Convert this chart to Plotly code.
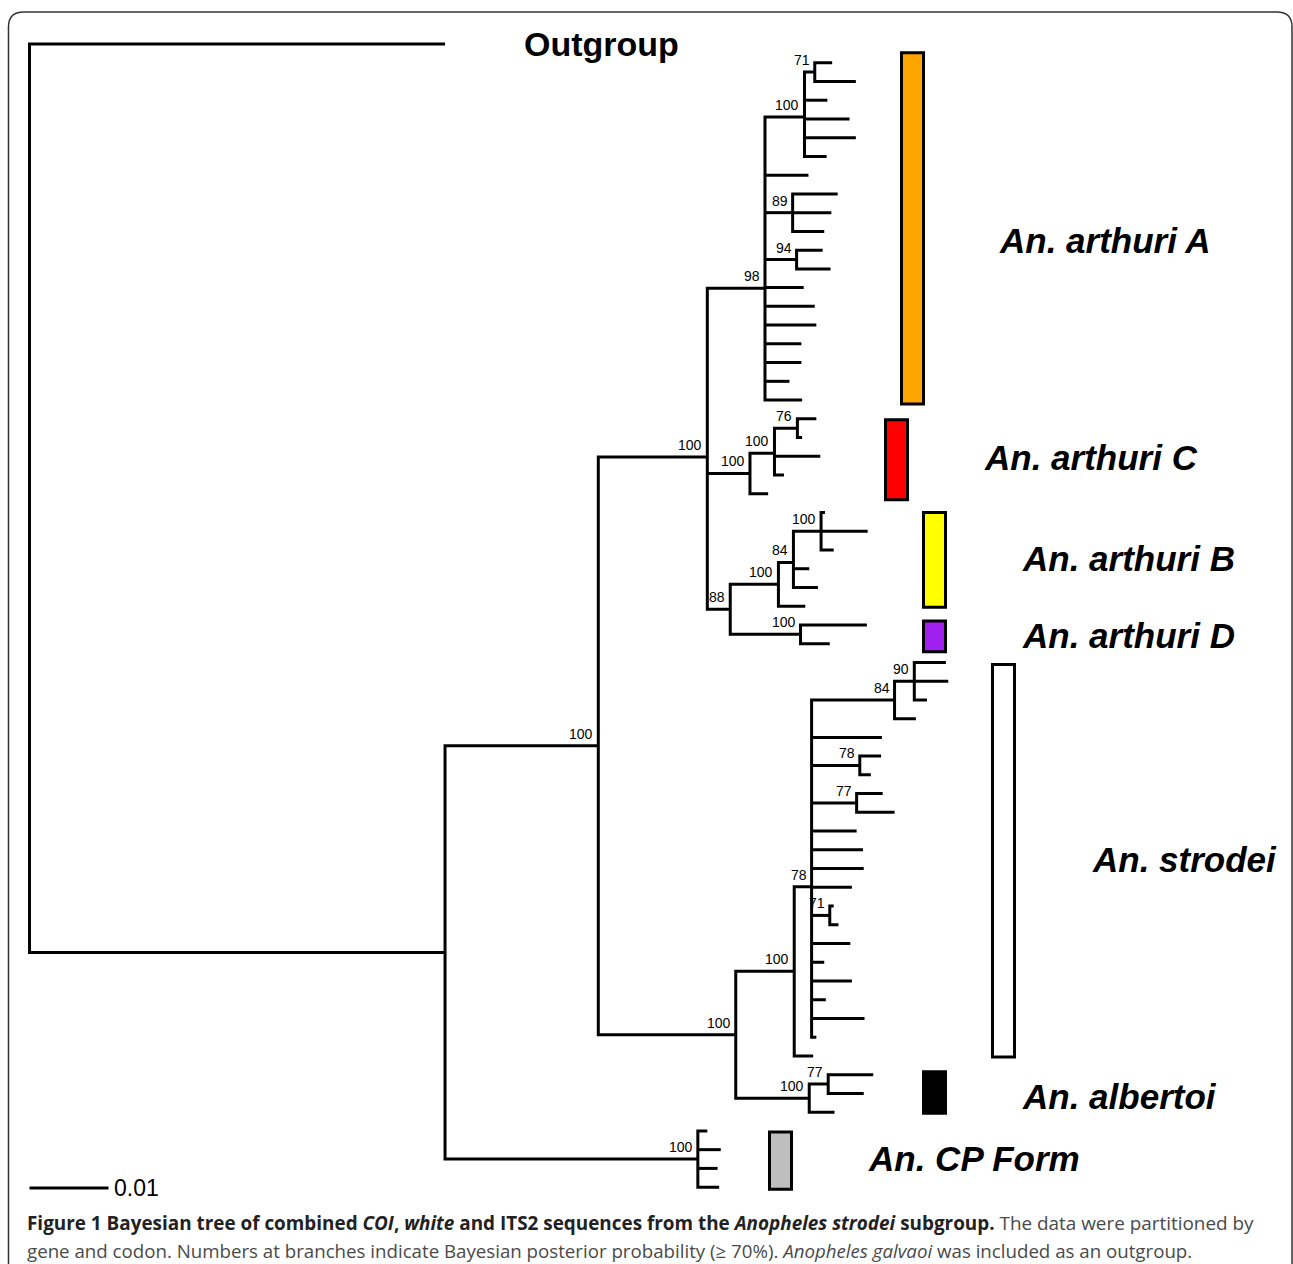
import plotly.graph_objects as go

# ---------------- DATA ----------------
# Tree in Newick pieces: branch lengths in substitutions/site, internal labels = posterior probability (%)
OUTGROUP = "Outgroup:0.0526"
ARTHURI_A = ("(((A1:0.0022,A2:0.0052)71:0.0013,A3:0.0029,A4:0.0057,A5:0.0065,A6:0.0028)100:0.0050,"
             "A7:0.0055,(A8:0.0057,A9:0.0049,A10:0.0040)89:0.0035,(A11:0.0033,A12:0.0043)94:0.0040,"
             "A13:0.0049,A14:0.0063,A15:0.0065,A16:0.0046,A17:0.0046,A18:0.0031,A19:0.0047)98:0.0073")
ARTHURI_C = "(((C1:0.0024,C2:0.0006)76:0.0029,C3:0.0058,C4:0.0012)100:0.0031,C5:0.0023)100:0.0054"
ARTHURI_BD = ("((((B1:0.0005,B2:0.0059,B3:0.0016)100:0.0035,B4:0.0020,B5:0.0031)84:0.0019,B6:0.0034)100:0.0061,"
              "(D1:0.0084,D2:0.0037)100:0.0089)88:0.0029")
STRODEI_CORE = ("(((S1:0.0040,S2:0.0043,S3:0.0016)90:0.0025,S4:0.0027)84:0.0105,S5:0.0089,"
                "(S6:0.0027,S7:0.0014)78:0.0061,(S8:0.0033,S9:0.0048)77:0.0057,S10:0.0057,S11:0.0065,"
                "S12:0.0066,S13:0.0051,(S14:0.0005,S15:0.0011)71:0.0023,S16:0.0049,S17:0.0016,S18:0.0051,"
                "S19:0.0018,S20:0.0067,S21:0.0006)78:0.0022")
STRODEI = "(" + STRODEI_CORE + ",S22:0.0024)100:0.0074"
ALBERTOI = "((L1:0.0057,L2:0.0045)77:0.0024,L3:0.0032)100:0.0093"
CP_FORM = "(P1:0.0012,P2:0.0029,P3:0.0025,P4:0.0027)100:0.0320"
ARTHURI = "(" + ARTHURI_A + "," + ARTHURI_C + "," + ARTHURI_BD + ")100:0.0138"
STR_ALB = "(" + STRODEI + "," + ALBERTOI + ")100:0.0174"
MAIN = "(" + ARTHURI + "," + STR_ALB + ")100:0.0194"
INGROUP = "(" + MAIN + "," + CP_FORM + "):0.0526"
NEWICK = "(" + OUTGROUP + "," + INGROUP + ");"

CLADE_NAMES = ["An. arthuri A", "An. arthuri C", "An. arthuri B", "An. arthuri D",
               "An. strodei", "An. albertoi", "An. CP Form"]
CLADE_PREFIX = ["A", "C", "B", "D", "S", "L", "P"]
CLADE_COLORS = ["#FFA500", "#FF0000", "#FFFF00", "#A020F0", "#FFFFFF", "#000000", "#BEBEBE"]
SCALE_BAR = 0.01

# ---------------- LAYOUT (pixels) ----------------
W, H = 1293, 1264
ROOT_PX, PX_PER_UNIT = 29.5, 7900.0
TIP0_PX, TIP_STEP_PX = 44.0, 18.74
BAR_LEFT = [900, 884, 922, 922, 991, 922, 768]
BAR_W = 25
BAR_PAD_TOP = [10, -1, 0, 4, -2, 3, -1]
BAR_PAD_BOT = [4, 6, 1, 8, 1, 1, 2]
LABEL_POS = [(997, 240), (982, 457), (1020, 558), (1020, 635), (1090, 859), (1020, 1096), (866, 1158)]


def px2x(px):
    return (px - ROOT_PX) / PX_PER_UNIT


def px2y(py):
    return (py - TIP0_PX) / TIP_STEP_PX


def parse_newick(s):
    s = s.strip().rstrip(";")
    pos = 0

    def node():
        nonlocal pos
        n = {"children": [], "name": "", "length": 0.0}
        if s[pos] == "(":
            pos += 1
            while True:
                n["children"].append(node())
                if s[pos] == ",":
                    pos += 1
                    continue
                pos += 1  # ')'
                break
        st = pos
        while pos < len(s) and s[pos] not in ":,)":
            pos += 1
        n["name"] = s[st:pos]
        if pos < len(s) and s[pos] == ":":
            pos += 1
            st = pos
            while pos < len(s) and s[pos] not in ",)":
                pos += 1
            n["length"] = float(s[st:pos])
        return n

    return node()


tree = parse_newick(NEWICK)
tips = []


def place(n, x0, is_root=False):
    n["x"] = x0 + (0.0 if is_root else n["length"])
    if n["children"]:
        for c in n["children"]:
            place(c, n["x"])
        n["y"] = sum(c["y"] for c in n["children"]) / len(n["children"])
    else:
        n["y"] = len(tips)
        tips.append(n)


place(tree, 0.0, True)

xs, ys = [], []
supports = []


def draw(n):
    ch = n["children"]
    if not ch:
        return
    f, l = ch[0], ch[-1]
    xs.extend([f["x"], n["x"], n["x"], l["x"], None])
    ys.extend([f["y"], f["y"], l["y"], l["y"], None])
    for c in ch[1:-1]:
        xs.extend([n["x"], c["x"], None])
        ys.extend([c["y"], c["y"], None])
    if n["name"]:
        supports.append((n["x"], n["y"], n["name"]))
    for c in ch:
        draw(c)


draw(tree)

fig = go.Figure()
fig.add_trace(go.Scatter(x=xs, y=ys, mode="lines", line=dict(color="black", width=3),
                         hoverinfo="skip", showlegend=False))

# scale bar
sb_y = px2y(1188)
fig.add_trace(go.Scatter(x=[0, SCALE_BAR], y=[sb_y, sb_y], mode="lines",
                         line=dict(color="black", width=3), hoverinfo="skip", showlegend=False))

annotations = []
FONT = "Liberation Sans, Arial, sans-serif"
for x, y, lab in supports:
    annotations.append(dict(x=x, y=y, text=lab, showarrow=False, xanchor="right", yanchor="bottom",
                            xshift=-3, yshift=2, font=dict(family=FONT, size=14, color="black")))

annotations.append(dict(x=SCALE_BAR, y=sb_y, text=str(SCALE_BAR), showarrow=False, xanchor="left",
                        yanchor="middle", xshift=3, font=dict(family=FONT, size=23, color="black")))

# outgroup label
annotations.append(dict(x=px2x(601), y=tips[0]["y"], text="<b>Outgroup</b>", showarrow=False,
                        xanchor="center", yanchor="middle",
                        font=dict(family=FONT, size=34, color="black")))

shapes = []
for i, pre in enumerate(CLADE_PREFIX):
    cy = [t["y"] for t in tips if t["name"].rstrip("0123456789") == pre]
    y0 = min(cy) - BAR_PAD_TOP[i] / TIP_STEP_PX
    y1 = max(cy) + BAR_PAD_BOT[i] / TIP_STEP_PX
    shapes.append(dict(type="rect", xref="x", yref="y",
                       x0=px2x(BAR_LEFT[i] + 1.5), x1=px2x(BAR_LEFT[i] + BAR_W - 1.5),
                       y0=y0, y1=y1, fillcolor=CLADE_COLORS[i],
                       line=dict(color="black", width=3)))
    lx, ly = LABEL_POS[i]
    annotations.append(dict(x=px2x(lx), y=px2y(ly), text="<b><i>" + CLADE_NAMES[i] + "</i></b>",
                            showarrow=False, xanchor="left", yanchor="middle",
                            font=dict(family=FONT, size=35, color="black")))


# frame with rounded top corners (paper coords)
def P(px, py):
    return f"{px / W:.5f},{1 - py / H:.5f}"


frame = (f"M {P(8.5, 1264)} L {P(8.5, 27)} Q {P(8.5, 12)} {P(23.5, 12)} "
         f"L {P(1277, 12)} Q {P(1292, 12)} {P(1292, 27)} L {P(1292, 1264)}")
shapes.append(dict(type="path", xref="paper", yref="paper", path=frame,
                   line=dict(color="#333333", width=1.5)))

CAP_FONT = "Open Sans, Noto Sans, sans-serif"
cap1 = ("<b>Figure 1 Bayesian tree of combined <i>COI</i>, <i>white</i> and ITS2 sequences from the "
        "<i>Anopheles strodei</i> subgroup.</b> <span style='color:#4a4a4a'>The data were partitioned by</span>")
cap2 = ("gene and codon. Numbers at branches indicate Bayesian posterior probability (≥ 70%). "
        "<i>Anopheles galvaoi</i> was included as an outgroup.")
annotations.append(dict(xref="paper", yref="paper", x=25 / W, y=1 - 1223 / H, text=cap1, showarrow=False,
                        xanchor="left", yanchor="middle", font=dict(family=CAP_FONT, size=18.9, color="#222222")))
annotations.append(dict(xref="paper", yref="paper", x=25 / W, y=1 - 1250 / H, text=cap2, showarrow=False,
                        xanchor="left", yanchor="middle", font=dict(family=CAP_FONT, size=18.7, color="#4a4a4a")))

fig.update_layout(
    width=W, height=H, margin=dict(l=0, r=0, t=0, b=0),
    paper_bgcolor="white", plot_bgcolor="white",
    xaxis=dict(range=[px2x(0), px2x(W)], visible=False, fixedrange=True),
    yaxis=dict(range=[px2y(H), px2y(0)], visible=False, fixedrange=True),
    shapes=shapes, annotations=annotations, showlegend=False,
)

fig.write_html("out.html", config={"displayModeBar": False},
               post_script="document.body.style.margin='0';document.body.style.padding='0';"
                           "document.body.style.overflow='hidden';")
